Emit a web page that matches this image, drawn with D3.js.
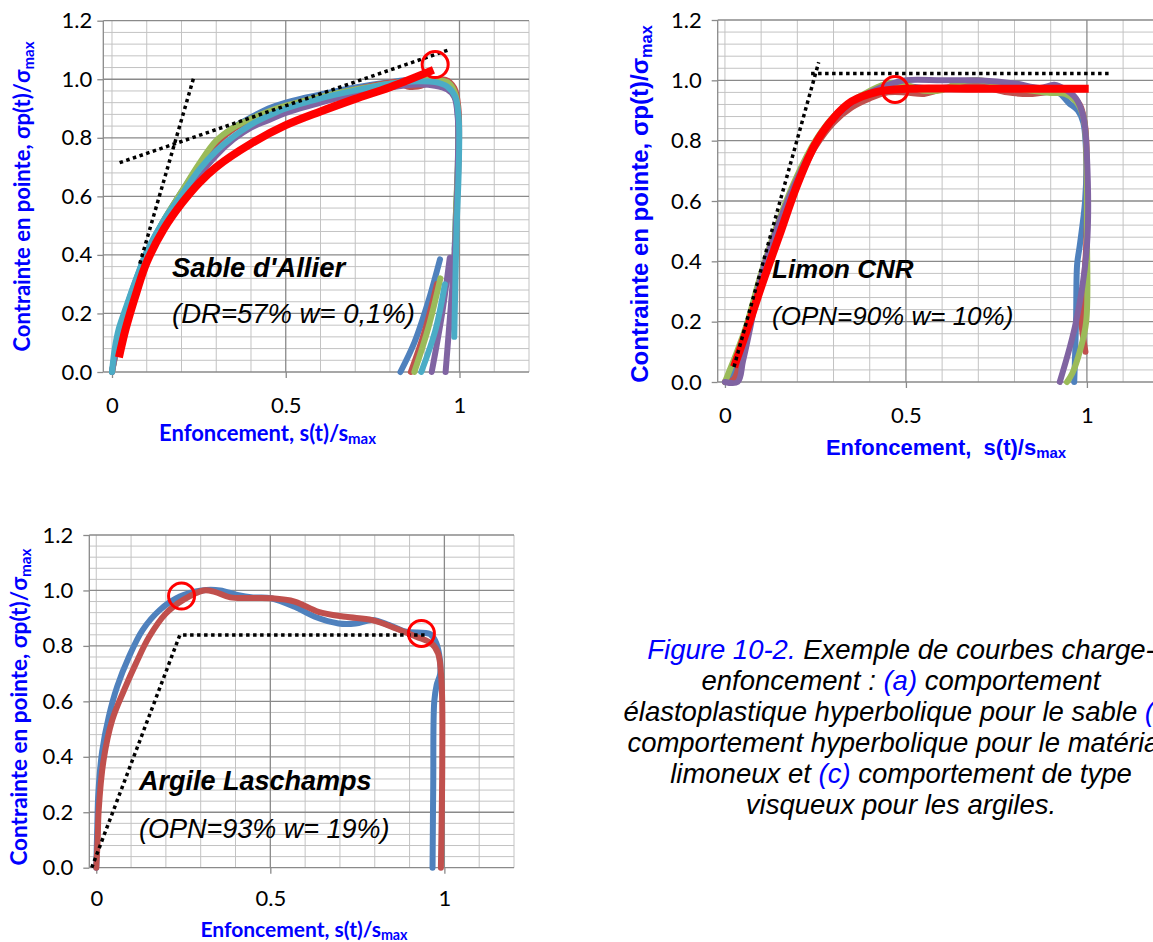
<!DOCTYPE html>
<html>
<head>
<meta charset="utf-8">
<script src="https://cdn.jsdelivr.net/npm/d3@7"></script>
<style>
  body { margin: 0; background: #fff; }
  svg { display: block; }
</style>
</head>
<body>
<svg id="fig" width="1153" height="942"></svg>
<script>
// ---------- data (s/smax, sigma/sigma_max) ----------
const xTicks = [0, 0.5, 1];
const yTicks = [0, 0.2, 0.4, 0.6, 0.8, 1.0, 1.2];
const excelColors = ["#4F81BD", "#C0504D", "#9BBB59", "#8064A2", "#4BACC6"];

// (a) Sable d'Allier
const sableBleu = [[0,0],[0.01,0.07],[0.025,0.15],[0.05,0.25],[0.08,0.35],[0.1,0.41],[0.15,0.52],[0.2,0.615],[0.25,0.705],[0.3,0.785],[0.35,0.835],[0.4,0.87],[0.45,0.9],[0.5,0.92],[0.55,0.935],[0.6,0.948],[0.7,0.972],[0.8,0.99],[0.86,0.998],[0.92,0.995],[0.96,0.985],[0.985,0.955],[0.995,0.88],[0.996,0.72],[0.99,0.55],[0.986,0.42], null, [0.83,0],[0.87,0.1],[0.91,0.24],[0.944,0.385]];
const sableRouge = [[0,0],[0.01,0.06],[0.025,0.14],[0.05,0.24],[0.08,0.34],[0.1,0.4],[0.15,0.515],[0.2,0.61],[0.25,0.7],[0.3,0.78],[0.35,0.83],[0.4,0.86],[0.45,0.885],[0.5,0.905],[0.6,0.935],[0.7,0.965],[0.78,0.985],[0.82,0.99],[0.85,0.975],[0.88,0.975],[0.92,0.99],[0.96,0.998],[0.985,0.97],[0.997,0.9],[0.998,0.75],[0.993,0.6],[0.99,0.5], null, [0.86,0],[0.9,0.14],[0.935,0.3]];
const sableVert = [[0,0],[0.012,0.07],[0.03,0.16],[0.05,0.24],[0.08,0.34],[0.1,0.4],[0.15,0.52],[0.2,0.615],[0.25,0.71],[0.3,0.79],[0.35,0.835],[0.4,0.865],[0.45,0.89],[0.5,0.91],[0.6,0.94],[0.7,0.965],[0.8,0.985],[0.88,0.995],[0.93,0.998],[0.965,0.99],[0.985,0.96],[0.995,0.9],[0.996,0.75],[0.99,0.55],[0.985,0.35], null, [0.87,0],[0.91,0.15],[0.945,0.32]];
const sableViolet = [[0,0],[0.01,0.06],[0.03,0.15],[0.05,0.23],[0.08,0.33],[0.1,0.39],[0.15,0.5],[0.2,0.59],[0.25,0.67],[0.3,0.74],[0.35,0.795],[0.4,0.835],[0.45,0.86],[0.5,0.885],[0.6,0.92],[0.7,0.95],[0.8,0.972],[0.88,0.982],[0.93,0.978],[0.965,0.965],[0.985,0.94],[0.995,0.87],[0.995,0.7],[0.99,0.5],[0.98,0.3],[0.97,0.15],[0.96,0], null, [0.92,0],[0.95,0.2],[0.972,0.39]];
const sableCyan = [[0,0],[0.008,0.08],[0.02,0.15],[0.04,0.22],[0.07,0.32],[0.1,0.41],[0.15,0.52],[0.2,0.605],[0.25,0.69],[0.3,0.755],[0.35,0.805],[0.4,0.845],[0.45,0.875],[0.5,0.9],[0.6,0.935],[0.7,0.962],[0.8,0.985],[0.88,0.993],[0.93,0.99],[0.965,0.975],[0.988,0.94],[0.998,0.86],[0.998,0.7],[0.992,0.5],[0.988,0.3],[0.985,0.12], null, [0.89,0],[0.93,0.14],[0.958,0.3]];
const sableFit = [[0.02,0.05],[0.04,0.15],[0.07,0.27],[0.1,0.375],[0.15,0.49],[0.2,0.575],[0.25,0.645],[0.3,0.7],[0.4,0.78],[0.5,0.843],[0.6,0.89],[0.7,0.933],[0.8,0.973],[0.925,1.032]];
const sableTangentes = [[[0.022,0.715],[0.968,1.1]], [[0.08,0.37],[0.235,1.005]]];
const sableCercles = [[0.93,1.05]];

// (b) Limon CNR
const limonBleu = [[0,0],[0.02,0.02],[0.04,0.08],[0.07,0.2],[0.1,0.34],[0.15,0.52],[0.2,0.665],[0.25,0.785],[0.3,0.865],[0.35,0.915],[0.4,0.95],[0.45,0.97],[0.5,0.98],[0.55,0.975],[0.6,0.975],[0.7,0.985],[0.8,0.975],[0.87,0.96],[0.92,0.96],[0.95,0.925],[0.975,0.9],[0.99,0.86],[0.998,0.75],[0.995,0.6],[0.98,0.45],[0.973,0.39],[0.97,0.2],[0.965,0]];
const limonRouge = [[0,0],[0.025,0.01],[0.045,0.09],[0.07,0.2],[0.1,0.34],[0.15,0.515],[0.2,0.66],[0.25,0.78],[0.3,0.86],[0.35,0.91],[0.4,0.94],[0.45,0.96],[0.5,0.96],[0.55,0.955],[0.6,0.97],[0.7,0.98],[0.78,0.96],[0.85,0.955],[0.9,0.962],[0.95,0.955],[0.98,0.92],[0.995,0.85],[1.0,0.65],[0.998,0.45],[0.99,0.3],[0.985,0.2],[0.996,0.1]];
const limonVert = [[0,0],[0.01,0.03],[0.03,0.09],[0.06,0.19],[0.1,0.36],[0.15,0.54],[0.2,0.685],[0.25,0.8],[0.3,0.88],[0.35,0.93],[0.4,0.965],[0.45,0.99],[0.5,0.985],[0.55,0.965],[0.6,0.968],[0.65,0.995],[0.7,1.0],[0.75,0.99],[0.8,0.975],[0.85,0.965],[0.9,0.958],[0.94,0.955],[0.97,0.93],[0.99,0.88],[0.998,0.78],[1.0,0.5],[0.998,0.2],[0.98,0.1],[0.96,0.03],[0.945,0]];
const limonViolet = [[0,0],[0.035,0],[0.05,0.07],[0.07,0.18],[0.1,0.35],[0.15,0.53],[0.2,0.675],[0.25,0.79],[0.3,0.87],[0.35,0.925],[0.4,0.96],[0.45,0.985],[0.5,1.0],[0.6,1.0],[0.7,1.0],[0.8,0.99],[0.87,0.975],[0.91,0.985],[0.94,0.97],[0.97,0.94],[0.99,0.88],[1.0,0.75],[1.0,0.45],[0.97,0.2],[0.925,0]];
const limonFit = [[0.025,0.05],[0.06,0.17],[0.1,0.315],[0.15,0.485],[0.2,0.655],[0.25,0.79],[0.3,0.875],[0.35,0.93],[0.42,0.962],[0.5,0.972],[0.7,0.972],[1.005,0.972]];
const limonTangentes = [[[0.025,0.05],[0.259,1.06]], [[0.238,1.023],[1.06,1.023]]];
const limonCercles = [[0.47,0.97]];

// (c) Argile Laschamps
const argileBleu = [[0,0],[0.003,0.15],[0.006,0.27],[0.017,0.42],[0.036,0.545],[0.06,0.653],[0.094,0.761],[0.133,0.857],[0.182,0.929],[0.24,0.978],[0.303,1.0],[0.356,1.0],[0.405,0.984],[0.45,0.975],[0.502,0.972],[0.57,0.941],[0.628,0.905],[0.696,0.881],[0.745,0.881],[0.793,0.893],[0.842,0.875],[0.89,0.851],[0.958,0.843],[0.975,0.815],[0.985,0.77],[0.988,0.7],[0.978,0.66],[0.971,0.6],[0.968,0.3],[0.966,0]];
const argileRouge = [[0,0],[0.004,0.1],[0.007,0.208],[0.021,0.388],[0.046,0.533],[0.08,0.641],[0.114,0.737],[0.152,0.833],[0.2,0.917],[0.25,0.966],[0.308,1.0],[0.34,0.995],[0.385,0.975],[0.45,0.973],[0.502,0.972],[0.57,0.96],[0.638,0.923],[0.716,0.905],[0.793,0.893],[0.861,0.863],[0.919,0.833],[0.963,0.809],[0.982,0.773],[0.992,0.665],[0.994,0.4],[0.99,0]];
const argileTangentes = [[[-0.013,0],[0.24,0.839],[0.95,0.839]]];
const argileCercles = [[0.245,0.98],[0.934,0.845]];

const captionLines = [
  [["Figure 10-2.", true], [" Exemple de courbes charge-", false]],
  [["enfoncement : ", false], ["(a)", true], [" comportement", false]],
  [["élastoplastique hyperbolique pour le sable ", false], ["(b)", true]],
  [["comportement hyperbolique pour le matériau", false]],
  [["limoneux et ", false], ["(c)", true], [" comportement de type", false]],
  [["visqueux pour les argiles.", false]]
];

// ---------- layout ----------
const calibri = "Lato, 'Open Sans', sans-serif";
const arial = "'Liberation Sans', Arial, sans-serif";
const minorColor = "#c3c3c3", majorColor = "#8a8a8a";

const panels = [
  { xr: [103.3, 529], yr: [372, 20.7], xdom: [-0.025, 1.2],
    series: [sableBleu, sableRouge, sableVert, sableViolet, sableCyan], fit: sableFit,
    tangentes: sableTangentes, cercles: sableCercles,
    yPad: 5, xPad: 19,
    titleFont: calibri, titleSize: 22, yTitleSize: 22,
    yTitle: [30, 196.5], xTitle: [267.5, 441], xTitleText: "Enfoncement, s(t)/s",
    label: ["Sable d'Allier", "(DR=57% w= 0,1%)"], labelPos: [172, 277, 323], labelSize: 27.5 },
  { xr: [717.7, 1159.3], yr: [382, 20], xdom: [-0.02, 1.2],
    series: [limonBleu, limonRouge, limonVert, limonViolet], fit: limonFit,
    tangentes: limonTangentes, cercles: limonCercles,
    yPad: 10, xPad: 19,
    titleFont: arial, titleSize: 22, yTitleSize: 24,
    yTitle: [648, 204], xTitle: [946, 455], xTitleText: "Enfoncement,\u00a0 s(t)/s",
    label: ["Limon CNR", "(OPN=90% w= 10%)"], labelPos: [772, 278, 325], labelSize: 26 },
  { xr: [89.3, 514], yr: [867.7, 535], xdom: [-0.02, 1.2],
    series: [argileBleu, argileRouge], fit: null,
    tangentes: argileTangentes, cercles: argileCercles,
    yPad: 10, xPad: 17,
    titleFont: calibri, titleSize: 21, yTitleSize: 22.5,
    yTitle: [27, 707], xTitle: [304, 937], xTitleText: "Enfoncement, s(t)/s",
    label: ["Argile Laschamps", "(OPN=93% w= 19%)"], labelPos: [139, 790, 838], labelSize: 27 }
];

const svg = d3.select("#fig");

const xGrid = d3.range(13).map(i => i / 10);
const yGrid = d3.range(31).map(i => +(i * 0.04).toFixed(2));

function drawPanel(p) {
  const x = d3.scaleLinear().domain(p.xdom).range(p.xr);
  const y = d3.scaleLinear().domain([0, 1.2]).range(p.yr);
  const g = svg.append("g");

  const isMajorX = d => d === 0.5 || d === 1;
  const isMajorY = (d, i) => i % 5 === 0;

  // minor then major gridlines
  g.append("g").selectAll("line")
    .data(yGrid.filter((d, i) => !isMajorY(d, i)))
    .join("line")
    .attr("x1", x(p.xdom[0])).attr("x2", x(1.2))
    .attr("y1", d => y(d)).attr("y2", d => y(d))
    .attr("stroke", minorColor).attr("stroke-width", 1);
  g.append("g").selectAll("line")
    .data(xGrid.filter(d => !isMajorX(d)))
    .join("line")
    .attr("x1", d => x(d)).attr("x2", d => x(d))
    .attr("y1", y(0)).attr("y2", y(1.2))
    .attr("stroke", minorColor).attr("stroke-width", 1);
  g.append("g").selectAll("line")
    .data(yGrid.filter((d, i) => isMajorY(d, i)))
    .join("line")
    .attr("x1", x(p.xdom[0])).attr("x2", x(1.2))
    .attr("y1", d => y(d)).attr("y2", d => y(d))
    .attr("stroke", majorColor).attr("stroke-width", 1.3);
  g.append("g").selectAll("line")
    .data(xGrid.filter(isMajorX))
    .join("line")
    .attr("x1", d => x(d)).attr("x2", d => x(d))
    .attr("y1", y(0)).attr("y2", y(1.2))
    .attr("stroke", majorColor).attr("stroke-width", 1.3);
  // left axis line
  g.append("line")
    .attr("x1", x(p.xdom[0])).attr("x2", x(p.xdom[0]))
    .attr("y1", y(0)).attr("y2", y(1.2))
    .attr("stroke", majorColor).attr("stroke-width", 1.3);

  // axes (ticks + labels)
  const xAxis = g.append("g")
    .attr("transform", "translate(0," + y(0) + ")")
    .call(d3.axisBottom(x).tickValues(xTicks).tickFormat(d3.format("")).tickSize(6).tickSizeOuter(0).tickPadding(p.xPad));
  const yAxis = g.append("g")
    .attr("transform", "translate(" + x(p.xdom[0]) + ",0)")
    .call(d3.axisLeft(y).tickValues(yTicks).tickFormat(d3.format(".1f")).tickSize(6).tickSizeOuter(0).tickPadding(p.yPad));
  [xAxis, yAxis].forEach(a => {
    a.select(".domain").remove();
    a.selectAll("line").attr("stroke", majorColor).attr("stroke-width", 1.3);
    a.selectAll("text").attr("font-family", calibri).attr("font-size", 22).attr("fill", "#000");
  });

  const line = d3.line()
    .defined(d => d !== null)
    .x(d => x(d[0])).y(d => y(d[1]))
    .curve(d3.curveCatmullRom.alpha(0.5));

  // test curves
  g.append("g").selectAll("path")
    .data(p.series)
    .join("path")
    .attr("d", line)
    .attr("fill", "none")
    .attr("stroke", (d, i) => excelColors[i])
    .attr("stroke-width", 6)
    .attr("stroke-linecap", "round")
    .attr("stroke-linejoin", "round");

  // hyperbolic fit
  if (p.fit) {
    g.append("path")
      .attr("d", line(p.fit))
      .attr("fill", "none")
      .attr("stroke", "#ff0000")
      .attr("stroke-width", 8)
      .attr("stroke-linecap", "butt");
  }

  // dotted tangents
  const straight = d3.line().x(d => x(d[0])).y(d => y(d[1]));
  g.append("g").selectAll("path")
    .data(p.tangentes)
    .join("path")
    .attr("d", straight)
    .attr("fill", "none")
    .attr("stroke", "#000")
    .attr("stroke-width", 3.5)
    .attr("stroke-dasharray", "3.5,3.5");

  // red circles
  g.append("g").selectAll("circle")
    .data(p.cercles)
    .join("circle")
    .attr("cx", d => x(d[0])).attr("cy", d => y(d[1]))
    .attr("r", 13)
    .attr("fill", "none")
    .attr("stroke", "#ff0000")
    .attr("stroke-width", 3);

  // axis titles
  const yt = g.append("text")
    .attr("transform", "translate(" + p.yTitle[0] + "," + p.yTitle[1] + ") rotate(-90)")
    .attr("text-anchor", "middle")
    .attr("font-family", p.titleFont).attr("font-weight", "bold")
    .attr("font-size", p.yTitleSize).attr("fill", "#0000ff");
  yt.append("tspan").text("Contrainte en pointe, σp(t)/σ");
  yt.append("tspan").attr("font-size", p.yTitleSize * 0.68).attr("dy", 4).text("max");

  const xt = g.append("text")
    .attr("x", p.xTitle[0]).attr("y", p.xTitle[1])
    .attr("text-anchor", "middle")
    .attr("font-family", p.titleFont).attr("font-weight", "bold")
    .attr("font-size", p.titleSize).attr("fill", "#0000ff");
  xt.append("tspan").text(p.xTitleText);
  xt.append("tspan").attr("font-size", p.titleSize * 0.68).attr("dy", 3).text("max");

  // material labels
  g.append("text")
    .attr("x", p.labelPos[0]).attr("y", p.labelPos[1])
    .attr("font-family", arial).attr("font-weight", "bold").attr("font-style", "italic")
    .attr("font-size", p.labelSize).attr("fill", "#000")
    .text(p.label[0]);
  g.append("text")
    .attr("x", p.labelPos[0]).attr("y", p.labelPos[2])
    .attr("font-family", arial).attr("font-style", "italic")
    .attr("font-size", p.labelSize).attr("fill", "#000")
    .text(p.label[1]);
}

panels.forEach(drawPanel);

// caption (centred, runs off the right edge as in the original page)
const caption = svg.append("text")
  .attr("font-family", arial).attr("font-style", "italic")
  .attr("font-size", 27.5).attr("text-anchor", "middle");
captionLines.forEach((segs, i) => {
  const t = caption.append("tspan").attr("x", 901).attr("y", 659 + i * 31);
  segs.forEach(s => {
    t.append("tspan").attr("fill", s[1] ? "#0000ff" : "#000").text(s[0]);
  });
});
</script>
</body>
</html>
